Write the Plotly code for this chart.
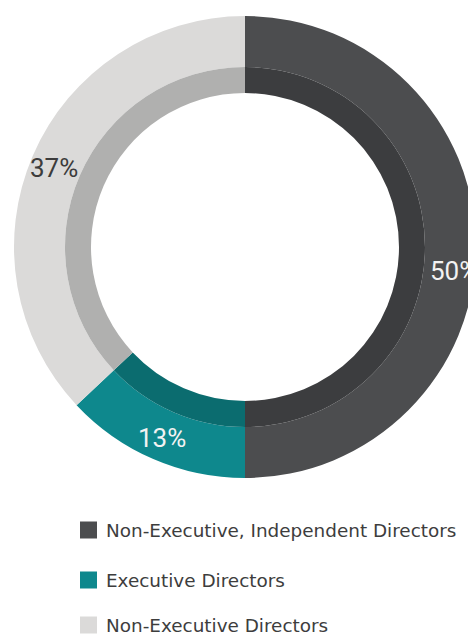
import math
import plotly.graph_objects as go

categories = ["Non-Executive, Independent Directors", "Executive Directors", "Non-Executive Directors"]
values = [50, 13, 37]
outer_colors = ["#4c4d4f", "#0e888d", "#dbdad9"]
inner_colors = ["#3c3d3f", "#0b6c6f", "#b0b0af"]
label_colors = ["#f2f2f2", "#f2f2f2", "#3c3c3c"]
label_drop = [24, 0, 4]  # pixel nudge of a label below its slice's mid-angle

W, H = 476, 635          # canvas slightly wider than the window: ring is clipped at right
CX, CY = 245, 247        # ring centre in pixels from top-left
R_OUT, R_BAND, R_HOLE = 231, 180, 154

fig = go.Figure()

# outer ring
fig.add_trace(go.Pie(
    labels=categories, values=values, sort=False, direction="clockwise", rotation=0,
    hole=R_BAND / R_OUT,
    marker=dict(colors=outer_colors, line=dict(width=0)),
    textinfo="none",
    domain=dict(x=[(CX - R_OUT) / W, (CX + R_OUT) / W], y=[(H - CY - R_OUT) / H, (H - CY + R_OUT) / H]),
    showlegend=False, hoverinfo="label+percent",
))

# inner darker band
fig.add_trace(go.Pie(
    labels=categories, values=values, sort=False, direction="clockwise", rotation=0,
    hole=R_HOLE / R_BAND,
    marker=dict(colors=inner_colors, line=dict(width=0)),
    textinfo="none",
    domain=dict(x=[(CX - R_BAND) / W, (CX + R_BAND) / W], y=[(H - CY - R_BAND) / H, (H - CY + R_BAND) / H]),
    showlegend=False, hoverinfo="skip",
))

# percentage labels at the middle of each slice of the outer ring
total = sum(values)
cum = 0
r_lab = (R_OUT + R_BAND) / 2 + 3
for v, col, drop in zip(values, label_colors, label_drop):
    theta = 2 * math.pi * (cum + v / 2) / total
    cum += v
    fig.add_annotation(x=CX / W, y=(H - CY) / H, xref="paper", yref="paper",
                       xshift=r_lab * math.sin(theta), yshift=r_lab * math.cos(theta) - drop,
                       text=f"{v}%", showarrow=False, xanchor="center", yanchor="middle",
                       font=dict(family="Roboto", size=26, color=col))

# custom legend
legend_y = [530, 580, 625]
for cat, col, yy in zip(categories, outer_colors, legend_y):
    fig.add_shape(type="rect", xref="paper", yref="paper",
                  x0=80 / W, x1=97 / W, y0=(H - yy - 8.5) / H, y1=(H - yy + 8.5) / H,
                  fillcolor=col, line=dict(width=0))
    fig.add_annotation(x=104 / W, y=(H - yy) / H, xref="paper", yref="paper",
                       text=cat, showarrow=False, xanchor="left", yanchor="middle",
                       font=dict(family="DejaVu Sans", size=18.4, color="#3d3d3d"))

fig.update_layout(width=W, height=H, margin=dict(l=0, r=0, t=0, b=0),
                  paper_bgcolor="white", plot_bgcolor="white", showlegend=False)

fig.write_html("out.html", config={"displayModeBar": False},
               post_script="document.body.style.margin='0';"
                           "document.documentElement.style.overflow='hidden';"
                           "document.body.style.overflow='hidden';")
